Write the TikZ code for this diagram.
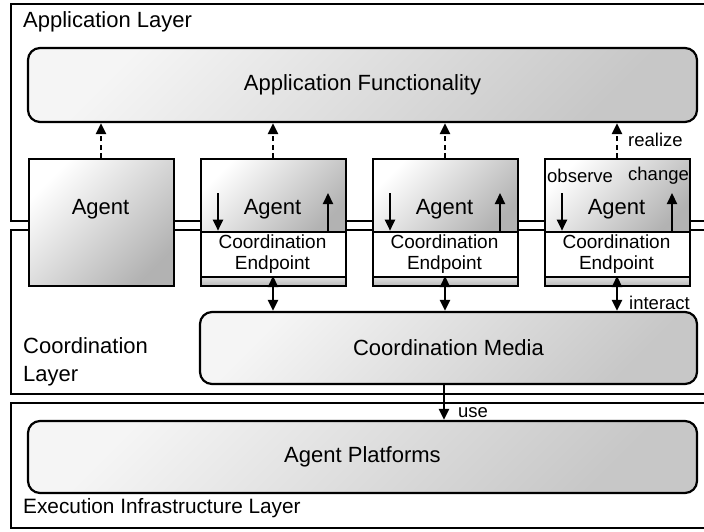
\documentclass[tikz,border=0pt]{standalone}
\usepackage{fontspec}
\setmainfont{Liberation Sans}
\usetikzlibrary{arrows.meta}
\newcommand{\bigf}{\fontsize{22}{26}\selectfont}
\newcommand{\midf}{\fontsize{19}{22}\selectfont}
\newcommand{\laybf}{\fontsize{22}{28}\selectfont}
\newcommand{\smallf}{\fontsize{18.5}{21}\selectfont}
\tikzset{
  frame/.style={draw, line width=2.2pt},
  rbox/.style={draw, line width=2.2pt, rounded corners=12pt, inner sep=0pt,
    top color=black!4, bottom color=black!22, shading angle=45,
    font=\bigf},
  agentbox/.style={draw, line width=2.2pt, inner sep=0pt, minimum width=145pt,
    top color=white, bottom color=black!30, shading angle=45},
  cebox/.style={draw, line width=2.2pt, inner sep=0pt, minimum width=145pt,
    minimum height=45.3pt, fill=white},
  stripbox/.style={draw, line width=2.2pt, inner sep=0pt, minimum width=145pt,
    minimum height=9pt, top color=black!12, bottom color=black!28},
  bigtext/.style={font=\bigf, inner sep=0pt},
  midtext/.style={font=\midf, inner sep=0pt, align=center},
  lbl/.style={font=\laybf, inner sep=0pt, anchor=west, align=left},
  small/.style={font=\smallf, inner sep=0pt, anchor=west},
  arr/.style={line width=2.2pt, -{Triangle[length=11pt,width=10pt]}},
  darr/.style={line width=2.2pt, {Triangle[length=11pt,width=10pt]}-{Triangle[length=11pt,width=10pt]}},
  dasharr/.style={line width=2.2pt, dash pattern=on 5pt off 3.5pt, -{Triangle[length=11pt,width=10pt]}},
}
\begin{document}
\begin{tikzpicture}[x=1pt,y=-1pt]
\useasboundingbox (0,0) rectangle (704,531);
% layer frames (open to the right, clipped by the page)
\draw[frame] (715,4) -| (11,220.7) -- (715,220.7);
\draw[frame] (715,230) -| (11,394) -- (715,394);
\draw[frame] (715,403) -| (11,528) -- (715,528);
% layer labels
\node[lbl] (lapp) at (23,22) {Application Layer};
\node[lbl] (lcoord) at (23,362) {Coordination\\Layer};
\node[lbl, font=\fontsize{20.8}{24}\selectfont] (lexec) at (23,508) {Execution Infrastructure Layer};
% big rounded boxes
\node[rbox, minimum width=669pt, minimum height=74pt] (af) at (362.5,85) {Application Functionality};
\node[rbox, minimum width=497pt, minimum height=72pt] (cm) at (448.5,348) {Coordination Media};
\node[rbox, minimum width=669pt, minimum height=72pt] (ap) at (362.5,457) {Agent Platforms};
% agent 1
\node[agentbox, anchor=north west, minimum height=127pt] (a1) at (28,158) {};
\node[bigtext] (ag1) at (100.5,209) {Agent};
\coordinate (m1) at (101,0);
\draw[dasharr] (a1.north -| m1) -- (m1 |- af.south);
% agents with coordination endpoints
\foreach \i/\x in {2/200,3/372,4/544}{
  \node[agentbox, anchor=north west, minimum height=72.7pt] (a\i) at (\x,158) {};
  \node[cebox, anchor=north west] (ce\i) at (\x,230.7) {};
  \node[stripbox, anchor=north west] (s\i) at (\x,276) {};
  \node[bigtext] (ag\i) at (\x+72.5,209) {Agent};
  \node[midtext] (cet\i) at (\x+72.5,254) {Coordination\\[-1pt]Endpoint};
  \coordinate (dn\i) at (\x+18,193);
  \coordinate (up\i) at (\x+128,193);
  \coordinate (m\i) at (\x+73,0);
  \draw[arr] (dn\i) -- (dn\i |- ce\i.north);
  \draw[arr] (up\i |- ce\i.north) -- (up\i);
  \draw[darr] (s\i.north -| m\i) -- (m\i |- cm.north);
  \draw[dasharr] (a\i.north -| m\i) -- (m\i |- af.south);
}
% use arrow
\coordinate (mu) at (444,0);
\draw[arr] (cm.south -| mu) -- (mu |- ap.north);
% small labels
\node[small] (trealize) at (628,140) {realize};
\node[small] (tinteract) at (629,303) {interact};
\node[small] (tuse) at (458,413) {use};
\node[small] (tobserve) at (547,176) {observe};
\node[small] (tchange) at (628,176) {change};
\end{tikzpicture}
\end{document}
